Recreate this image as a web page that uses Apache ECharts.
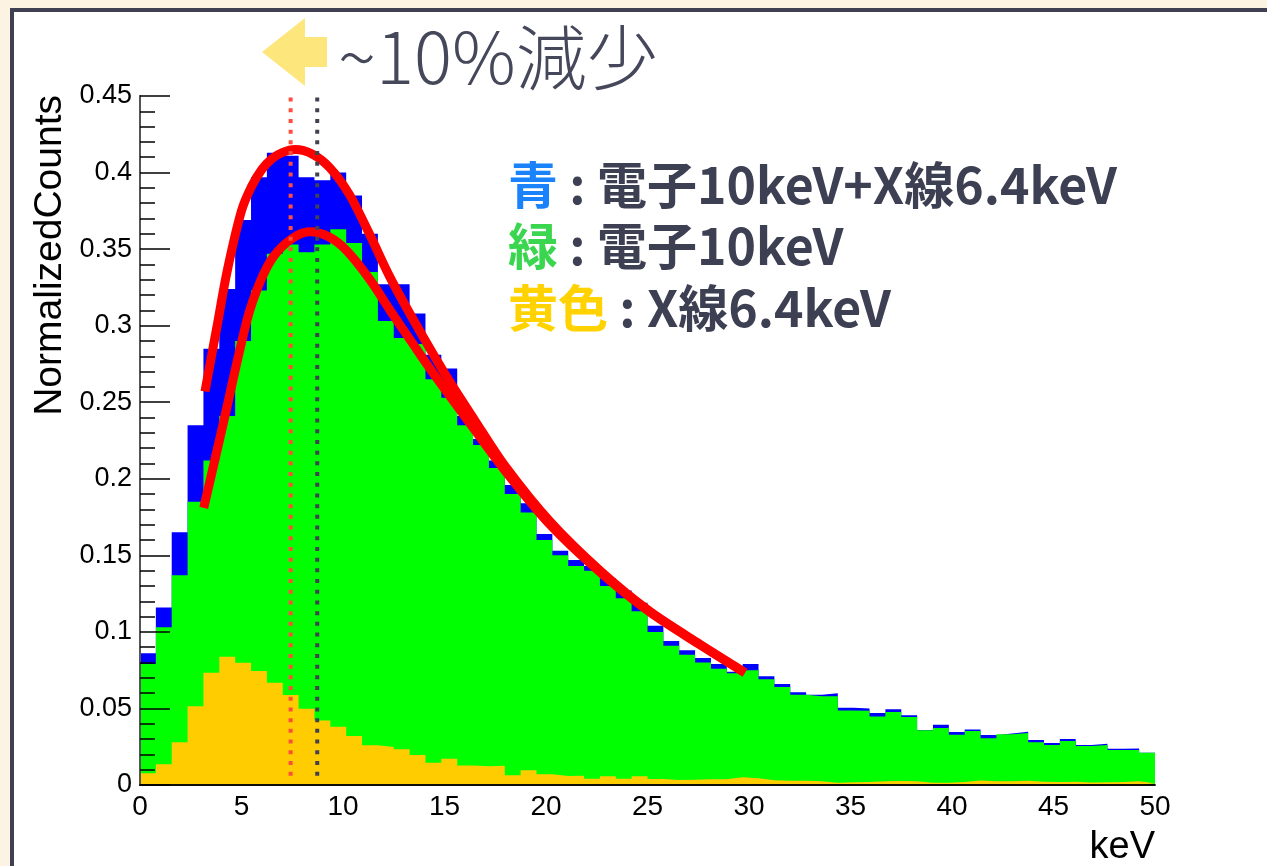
<!DOCTYPE html>
<html>
<head>
<meta charset="utf-8">
<script src="https://cdn.jsdelivr.net/npm/echarts@6/dist/echarts.min.js"></script>
<style>
html,body{margin:0;padding:0;background:#fdf3e2;}
#main{width:1267px;height:866px;}
</style>
</head>
<body>
<div id="main"></div>
<script>
// ---- data ----
const xRange = [0, 50];
const nBins = 64;
const blueTotal = [0.086,0.116,0.165,0.235,0.285,0.324,0.369,0.397,0.413,0.411,0.397,0.395,0.400,0.385,0.360,0.327,
  0.327,0.308,0.281,0.272,0.241,0.226,0.212,0.196,0.184,0.164,0.153,0.147,0.143,0.135,0.127,0.119,
  0.104,0.094,0.088,0.083,0.079,0.074,0.079,0.071,0.066,0.0605,0.059,0.060,0.0505,0.050,0.047,0.0494,
  0.0455,0.0359,0.0394,0.0346,0.0363,0.0326,0.0337,0.0348,0.0294,0.0274,0.0300,0.0261,0.0270,0.0237,0.0239,0.0211];
const greenElectron = [0.079,0.103,0.137,0.185,0.212,0.241,0.290,0.323,0.347,0.353,0.348,0.353,0.363,0.354,0.335,0.303,
  0.292,0.288,0.265,0.253,0.235,0.222,0.207,0.190,0.178,0.160,0.150,0.143,0.140,0.130,0.122,0.1135,
  0.100,0.091,0.085,0.080,0.076,0.073,0.075,0.069,0.064,0.059,0.058,0.058,0.0487,0.0485,0.0448,0.0476,
  0.0444,0.0357,0.0372,0.0329,0.0352,0.0305,0.0331,0.0339,0.0279,0.0261,0.0287,0.0255,0.0261,0.0228,0.0228,0.0211];
const yellowXray = [0.0076,0.0135,0.028,0.0515,0.0733,0.0837,0.0798,0.0744,0.0668,0.0587,0.0498,0.0422,0.0381,0.032,0.0259,0.0249,
  0.0233,0.0196,0.0146,0.0172,0.0128,0.0122,0.0126,0.0064,0.0096,0.0070,0.0059,0.0061,0.0041,0.0057,0.0041,0.0057,
  0.0039,0.0033,0.0035,0.0037,0.0037,0.0050,0.0044,0.0031,0.0028,0.0028,0.0024,0.0015,0.0018,0.0020,0.0025,0.0026,
  0.0025,0.0015,0.0015,0.0020,0.0029,0.0024,0.0024,0.0028,0.0022,0.0020,0.0022,0.0017,0.0018,0.0020,0.0025,0.0012];
const fitOuterX = [3.2,3.8,4.3,5.0,5.5,6.0,6.5,7.0,7.64,8.5,9.36,10.3,11.3,12.3,13.5,15.0,16.5,18.0,20.2,22.66,25.1,27.6,29.8];
const fitOuterY = [0.257,0.300,0.336,0.375,0.391,0.402,0.409,0.413,0.415,0.412,0.403,0.386,0.360,0.332,0.303,0.269,0.238,0.208,0.172,0.140,0.1135,0.0918,0.0735];
const fitInnerX = [3.14,4.1,5.26,5.9,6.57,7.5,8.37,9.3,10.18,11.33,12.32,13.5,14.6,16.26,18.0,20.2,22.66,25.1,27.6,29.8];
const fitInnerY = [0.181,0.236,0.303,0.328,0.345,0.357,0.3613,0.358,0.349,0.330,0.310,0.287,0.266,0.236,0.205,0.170,0.139,0.1130,0.0914,0.0732];
const peakLines = [7.42, 8.73];
const yTicks = {min: 0, max: 0.45, interval: 0.05};
const xTicks = {min: 0, max: 50, interval: 5};

// ---- build ----
const edges = [];
for (let i = 0; i <= nBins; i++) edges.push(xRange[0] + (xRange[1] - xRange[0]) * i / nBins);
function stepData(vals) {
  return edges.map((x, i) => [x, vals[Math.min(i, vals.length - 1)]]);
}
function histSeries(vals, color, z) {
  return {
    type: 'line', step: 'end', data: stepData(vals), symbol: 'none', z: z,
    lineStyle: {width: 0, color: color}, areaStyle: {color: color, opacity: 1}, silent: true
  };
}
function pairs(xs, ys) { return xs.map((x, i) => [x, ys[i]]); }

const chart = echarts.init(document.getElementById('main'));
const font = 'Liberation Sans, Arial, sans-serif';
const jp = '"Noto Sans CJK JP", sans-serif';
function richLine(head, headColor, rest) {
  return {
    text: '{h|' + head + '}{d| : ' + rest + '}',
    rich: {h: {fontFamily: jp, fontSize: 50, fontWeight: 'bold', fill: headColor, color: headColor},
           d: {fontFamily: jp, fontSize: 50, fontWeight: 'bold', fill: '#3d3f52', color: '#3d3f52'}}
  };
}
chart.setOption({
  animation: false,
  backgroundColor: '#fdf3e2',
  grid: {left: 140, right: 112, top: 96, bottom: 81, show: false, outerBoundsMode: 'none', containLabel: false},
  xAxis: [{
    type: 'value', min: xTicks.min, max: xTicks.max, interval: xTicks.interval,
    axisLine: {show: true, onZero: false, lineStyle: {color: '#000', width: 1.5}},
    axisTick: {show: false}, splitLine: {show: false},
    axisLabel: {color: '#000', fontFamily: font, fontSize: 28, margin: 8},
    z: 10
  }, {
    type: 'value', position: 'top', min: xTicks.min, max: xTicks.max,
    axisLine: {show: true, lineStyle: {color: '#000', width: 1.5}},
    axisTick: {show: false}, axisLabel: {show: false}, splitLine: {show: false}, z: 10
  }],
  yAxis: [{
    type: 'value', min: yTicks.min, max: yTicks.max, interval: yTicks.interval,
    axisLine: {show: true, onZero: false, lineStyle: {color: '#000', width: 1.5}},
    axisTick: {show: true, inside: true, length: 30, lineStyle: {color: '#000', width: 1.5}},
    minorTick: {show: true, splitNumber: 5, length: 15, lineStyle: {color: '#000', width: 1.5}},
    splitLine: {show: false},
    axisLabel: {color: '#000', fontFamily: font, fontSize: 27, margin: 8},
    z: 10
  }, {
    type: 'value', position: 'right', min: yTicks.min, max: yTicks.max,
    axisLine: {show: true, lineStyle: {color: '#555', width: 2}},
    axisTick: {show: false}, axisLabel: {show: false}, splitLine: {show: false}, z: 10
  }],
  series: [
    histSeries(blueTotal, '#0000ff', 2),
    histSeries(greenElectron, '#00ff00', 3),
    histSeries(yellowXray, '#ffcc00', 4),
    {type: 'line', data: pairs(fitOuterX, fitOuterY), smooth: 0.3, symbol: 'none', z: 5,
      lineStyle: {color: '#ff0000', width: 9, cap: 'butt'}},
    {type: 'line', data: pairs(fitInnerX, fitInnerY), smooth: 0.3, symbol: 'none', z: 5,
      lineStyle: {color: '#ff0000', width: 9, cap: 'butt'}},
    {type: 'line', data: [[peakLines[0], 0.449], [peakLines[0], 0.004]], symbol: 'none', z: 6,
      lineStyle: {color: '#ff4c3c', width: 4, type: [4, 6.7]}},
    {type: 'line', data: [[peakLines[1], 0.449], [peakLines[1], 0.004]], symbol: 'none', z: 6,
      lineStyle: {color: '#404252', width: 4, type: [4, 6.7]}}
  ],
  graphic: [
    {type: 'rect', z: -10, shape: {x: 12, y: 10, width: 1300, height: 900},
      style: {fill: '#ffffff', stroke: '#3f4153', lineWidth: 4}},
    {type: 'polygon', z: 20, shape: {points: [[262, 52], [305, 18], [305, 37], [327, 37], [327, 67], [305, 67], [305, 86]]},
      style: {fill: '#fde67c'}},
    {type: 'text', z: 20, x: 338, y: 57,
      style: {text: '~10%減少', font: '300 71px "Noto Sans CJK JP", sans-serif', fill: '#45475a', verticalAlign: 'middle'}},
    {type: 'text', z: 20, x: 508, y: 185, style: Object.assign(richLine('青', '#1a82fb', '電子10keV+X線6.4keV'), {verticalAlign: 'middle'})},
    {type: 'text', z: 20, x: 508, y: 246, style: Object.assign(richLine('緑', '#3bd64f', '電子10keV'), {verticalAlign: 'middle'})},
    {type: 'text', z: 20, x: 508, y: 308, style: Object.assign(richLine('黄色', '#ffd200', 'X線6.4keV'), {verticalAlign: 'middle'})},
    {type: 'text', z: 20, x: 50, y: 95, rotation: Math.PI / 2,
      style: {text: 'NormalizedCounts', font: '39px Liberation Sans, Arial, sans-serif', fill: '#000', align: 'right', verticalAlign: 'middle'}},
    {type: 'text', z: 20, x: 1155, y: 848,
      style: {text: 'keV', font: '38px Liberation Sans, Arial, sans-serif', fill: '#000', align: 'right', verticalAlign: 'middle'}}
  ]
});
</script>
</body>
</html>
